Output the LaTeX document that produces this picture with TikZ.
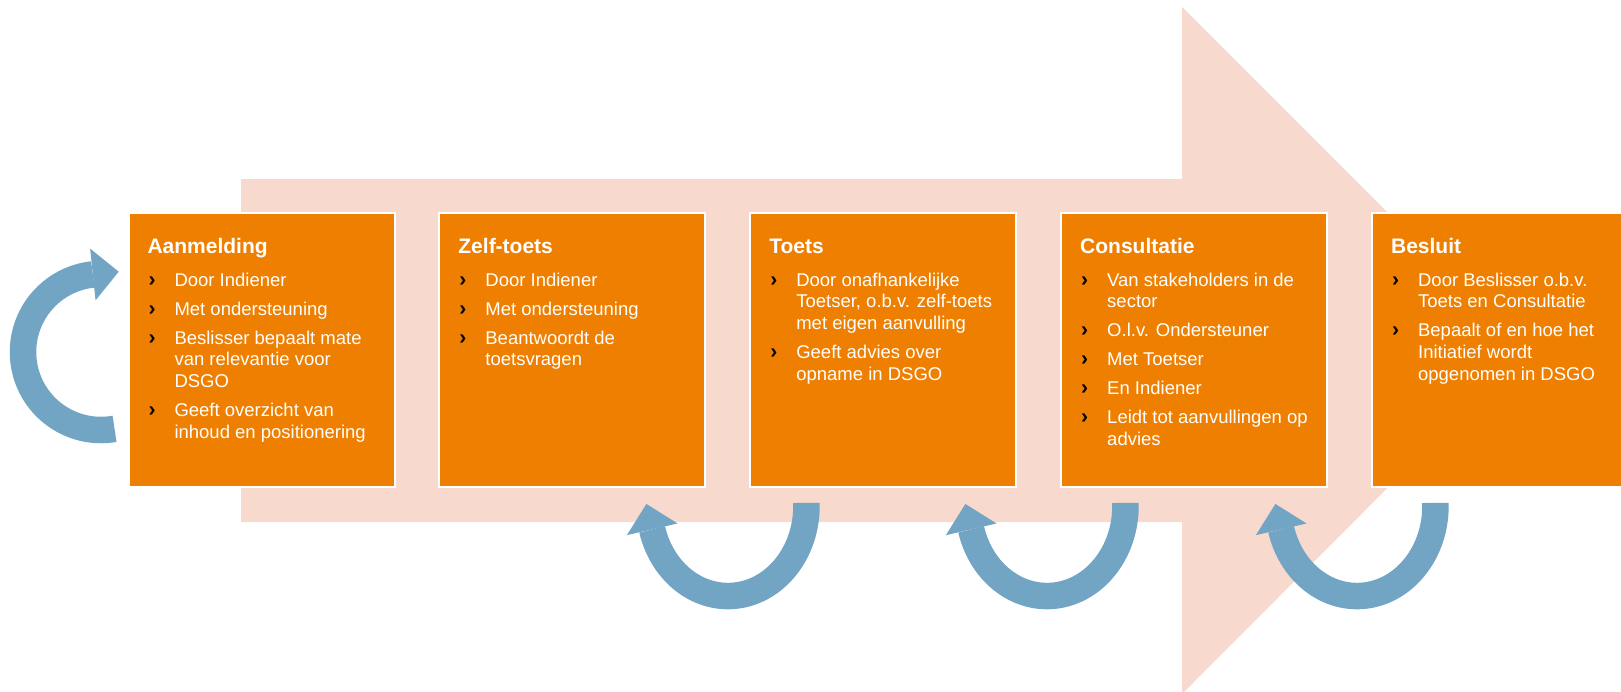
\documentclass[tikz,border=0pt]{standalone}
\usepackage{fontspec}
\setmainfont{Liberation Sans}
\usetikzlibrary{calc}
\definecolor{orangebox}{HTML}{EE7F00}
\definecolor{pinkarrow}{HTML}{F7D9CD}
\definecolor{bluearrow}{HTML}{72A5C4}
\newcommand{\bmark}{\makebox[27pt][l]{\hspace{1pt}\textcolor{black}{\fontsize{21pt}{21.8pt}\selectfont\bfseries ›}}}
\newcommand{\bitm}[1]{\par\hangindent=27pt\hangafter=1\noindent\bmark#1}
\newcommand{\boxtext}[2]{\parbox[t]{250pt}{\raggedright\setlength{\parskip}{7.2pt}\fontsize{18.5pt}{21.8pt}\selectfont{\fontsize{21pt}{21.8pt}\selectfont\bfseries #1\par}\vspace{4pt}#2}}
\tikzset{
  procbox/.style={rectangle, anchor=north west, fill=orangebox, draw=white, line width=2pt,
    minimum width=266pt, minimum height=274pt, inner sep=0pt, outer sep=0pt},
  boxtxt/.style={anchor=base west, inner sep=0pt, outer sep=0pt, text=white},
  cycband/.style={draw=bluearrow, line width=26.5pt, line cap=butt},
  cychead/.style={fill=bluearrow}
}
\begin{document}
\begin{tikzpicture}[x=1pt,y=1pt]
\useasboundingbox (0,0) rectangle (1621,-691);
\fill[white] (0,0) rectangle (1621,-691);
% big background arrow
\fill[pinkarrow] (241,-179) -- (1182,-179) -- (1182,-7) -- (1525,-350) -- (1182,-694) -- (1182,-522) -- (241,-522) -- cycle;
% boxes
\node[procbox] (b1) at (128.5,-213) {};
\node[procbox] (b2) at (439.4,-213) {};
\node[procbox] (b3) at (750.3,-213) {};
\node[procbox] (b4) at (1061.2,-213) {};
\node[procbox] (b5) at (1372.1,-213) {};
% texts
\node[boxtxt] (t1) at ($(b1.north west)+(19,-40)$) {\boxtext{Aanmelding}{%
\bitm{Door Indiener}
\bitm{Met ondersteuning}
\bitm{Beslisser bepaalt mate\newline van relevantie voor\newline DSGO}
\bitm{Geeft overzicht van\newline inhoud en positionering}}};
\node[boxtxt] (t2) at ($(b2.north west)+(19,-40)$) {\boxtext{Zelf-toets}{%
\bitm{Door Indiener}
\bitm{Met ondersteuning}
\bitm{Beantwoordt de\newline toetsvragen}}};
\node[boxtxt] (t3) at ($(b3.north west)+(19,-40)$) {\boxtext{Toets}{%
\bitm{Door onafhankelijke\newline Toetser, o.b.v. zelf-toets\newline met eigen aanvulling}
\bitm{Geeft advies over\newline opname in DSGO}}};
\node[boxtxt] (t4) at ($(b4.north west)+(19,-40)$) {\boxtext{Consultatie}{%
\bitm{Van stakeholders in de\newline sector}
\bitm{O.l.v. Ondersteuner}
\bitm{Met Toetser}
\bitm{En Indiener}
\bitm{Leidt tot aanvullingen op\newline advies}}};
\node[boxtxt] (t5) at ($(b5.north west)+(19,-40)$) {\boxtext{Besluit}{%
\bitm{Door Beslisser o.b.v.\newline Toets en Consultatie}
\bitm{Bepaalt of en hoe het\newline Initiatief wordt\newline opgenomen in DSGO}}};
% circular arrows
\coordinate (c1) at (101,-352);
\coordinate (c2) at (728,-506);
\coordinate (c3) at (1047,-506);
\coordinate (c4) at (1357,-506);
\draw[cycband] ($(c1)+(-80:78pt)$) arc[start angle=-80, end angle=-264, radius=78pt];
\fill[cychead] ($(c1)+(96:52pt)$) -- ($(c1)+(96:104pt)$) -- ($(c1)+(96:78pt)+(6:26pt)$) -- cycle;
\foreach \c in {c2,c3,c4}{
  \draw[cycband] ($(\c)+(78.4,3.1)$) arc[start angle=2, end angle=-165, x radius=78.5pt, y radius=90pt];
  \coordinate (p) at ($(\c)+(-75.8,-23.3)$);
  \fill[cychead] ($(p)+(193:26pt)$) -- ($(p)+(13:26pt)$) -- ($(p)+(103:26pt)$) -- cycle;
}
\end{tikzpicture}
\end{document}
